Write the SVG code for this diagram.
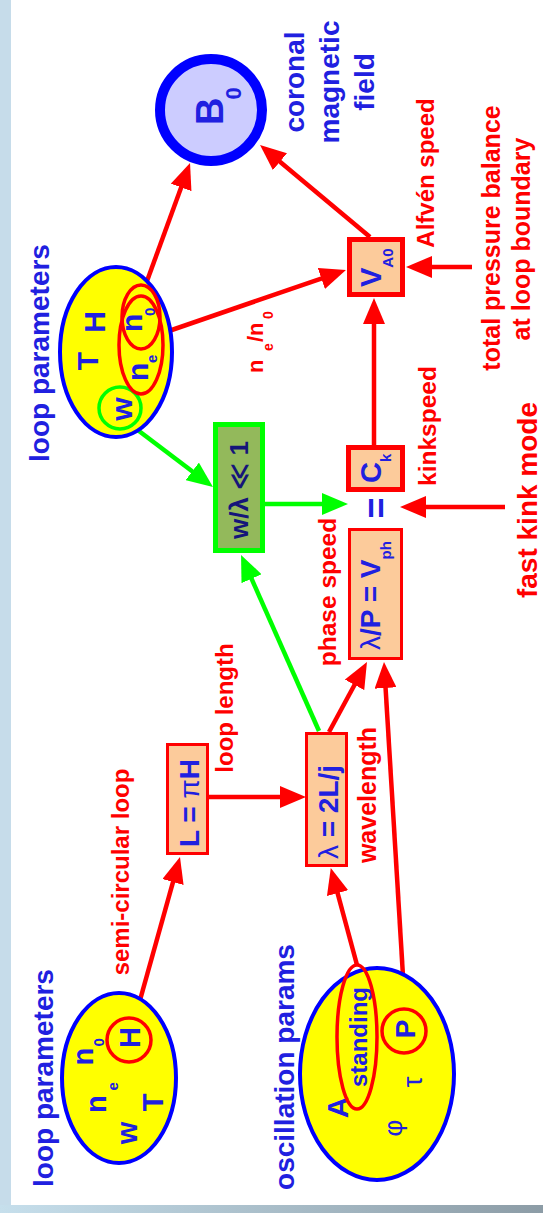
<svg xmlns="http://www.w3.org/2000/svg" width="543" height="1213" viewBox="0 0 543 1213">
<defs>
<linearGradient id="bottomGrad" x1="0" y1="0" x2="1" y2="0">
<stop offset="0" stop-color="#c6dfec"/>
<stop offset="1" stop-color="#8c9ca6"/>
</linearGradient>
<marker id="arrR" markerUnits="userSpaceOnUse" markerWidth="26" markerHeight="22" refX="16" refY="11" orient="auto"><path d="M0,0 L26,11 L0,22 z" fill="#ff0000"/></marker>
<marker id="arrG" markerUnits="userSpaceOnUse" markerWidth="26" markerHeight="22" refX="16" refY="11" orient="auto"><path d="M0,0 L26,11 L0,22 z" fill="#00ff00"/></marker>
</defs>
<style>
text{font-family:"Liberation Sans",Arial,"DejaVu Sans",sans-serif;font-weight:bold}
.b{fill:#2020e0}
.r{fill:#ff0000}
.n{font-weight:normal}
.rl{stroke:#ff0000;stroke-width:4.5;fill:none}
.gl{stroke:#00ff00;stroke-width:4.5;fill:none}
.box{fill:#fccb9b;stroke:#ff0000;stroke-width:3}
.boxT{fill:#fccb9b;stroke:#ff0000;stroke-width:5}
.yel{fill:#ffff00;stroke:#0000ff;stroke-width:4}
.ro{fill:none;stroke:#ff0000;stroke-width:3.5}
</style>
<g id="background">
<rect x="0" y="0" width="543" height="1213" fill="#ffffff"/>
<rect x="0" y="0" width="11" height="1213" fill="#c6dcea"/>
<rect x="0" y="1205" width="543" height="8" fill="url(#bottomGrad)"/>
</g>

<g id="connectors">
<line class="rl" x1="143" y1="292" x2="186.6" y2="172.4" marker-end="url(#arrR)"/>
<line class="rl" x1="163" y1="333" x2="336.5" y2="273.3" marker-end="url(#arrR)"/>
<line class="rl" x1="370" y1="237" x2="267.7" y2="151.4" marker-end="url(#arrR)"/>
<line class="rl" x1="472" y1="267" x2="416" y2="267" marker-end="url(#arrR)"/>
<line class="rl" x1="374" y1="445" x2="374" y2="308" marker-end="url(#arrR)"/>
<line class="rl" x1="505" y1="507" x2="410" y2="507" marker-end="url(#arrR)"/>
<line class="rl" x1="329" y1="732" x2="362.2" y2="670.8" marker-end="url(#arrR)"/>
<line class="rl" x1="405" y1="1009" x2="384.6" y2="672" marker-end="url(#arrR)"/>
<line class="rl" x1="209" y1="797" x2="296" y2="797" marker-end="url(#arrR)"/>
<line class="rl" x1="135" y1="1018" x2="177.3" y2="866.6" marker-end="url(#arrR)"/>
<line class="rl" x1="357" y1="965" x2="333.4" y2="877.7" marker-end="url(#arrR)"/>
<line class="gl" x1="135" y1="428" x2="205" y2="481" marker-end="url(#arrG)"/>
<line class="gl" x1="265" y1="504" x2="338" y2="504" marker-end="url(#arrG)"/>
<line class="gl" x1="319" y1="731" x2="245.1" y2="564.1" marker-end="url(#arrG)"/>
</g>

<g id="B0">
<circle cx="211" cy="110" r="51" fill="#ccccff" stroke="#0000ff" stroke-width="10"/>
<text class="b" transform="rotate(-90)" x="-125" y="223" font-size="38">B<tspan font-size="22" dx="-2" dy="18">0</tspan></text>
</g>

<g id="coronal-label">
<text class="b" transform="rotate(-90)" font-size="28" text-anchor="middle"><tspan x="-82" y="304">coronal</tspan><tspan x="-82" y="339">magnetic</tspan><tspan x="-82" y="374">field</tspan></text>
</g>

<g id="VA0">
<rect class="boxT" x="349.5" y="239.5" width="53" height="55"/>
<text class="b" transform="rotate(-90)" x="-287" y="381" font-size="29">V<tspan font-size="15" dy="12">A0</tspan></text>
</g>

<g id="labels-red">
<text class="r" transform="rotate(-90)" x="-173" y="434" font-size="24" text-anchor="middle">Alfvén speed</text>
<text class="r" transform="rotate(-90)" font-size="25" text-anchor="middle"><tspan x="-238" y="500">total pressure balance</tspan><tspan x="-239" y="530">at loop boundary</tspan></text>
<text class="r" transform="rotate(-90)" x="-426" y="436" font-size="24.5" text-anchor="middle">kinkspeed</text>
<text class="r" transform="rotate(-90)" x="-500" y="537" font-size="28" text-anchor="middle">fast kink mode</text>
<text class="r" transform="rotate(-90)" x="-592" y="336" font-size="24.5" text-anchor="middle">phase speed</text>
<text class="r" transform="rotate(-90)" x="-708" y="233" font-size="24" text-anchor="middle">loop length</text>
<text class="r" transform="rotate(-90)" x="-795" y="376" font-size="25" text-anchor="middle">wavelength</text>
<text class="r" transform="rotate(-90)" x="-872" y="129" font-size="24" text-anchor="middle">semi-circular loop</text>
<text class="r" transform="rotate(-90)" font-size="22"><tspan x="-373" y="263">n</tspan><tspan x="-351" y="273" font-size="14">e</tspan><tspan x="-342" y="263">/n</tspan><tspan x="-319" y="273" font-size="14">0</tspan></text>
</g>

<g id="loop-params-top">
<text class="b" transform="rotate(-90)" x="-353" y="49" font-size="28" text-anchor="middle">loop parameters</text>
<ellipse class="yel" cx="116" cy="352" rx="56" ry="85"/>
<text class="b" transform="rotate(-90)" font-size="30" text-anchor="middle"><tspan x="-361" y="98">T</tspan><tspan x="-322" y="105">H</tspan><tspan x="-409" y="132">w</tspan></text>
<text class="b" transform="rotate(-90)" font-size="30"><tspan x="-332" y="142">n</tspan><tspan x="-316" y="155" font-size="15">0</tspan><tspan x="-381" y="148">n</tspan><tspan x="-363" y="157" font-size="15">e</tspan></text>
<circle cx="120" cy="408" r="21" fill="none" stroke="#00ff00" stroke-width="3.5"/>
<ellipse class="ro" cx="141" cy="345" rx="22" ry="49"/>
<ellipse class="ro" cx="141" cy="317" rx="19" ry="32"/>
</g>

<g id="w-lambda">
<rect x="215.5" y="424.5" width="47" height="126" fill="#93b95b" stroke="#00ff00" stroke-width="5"/>
<text transform="rotate(-90)" x="-490" y="248" font-size="26" text-anchor="middle" fill="#15157a">w/λ ≪ 1</text>
</g>

<g id="equals">
<text class="b" transform="rotate(-90)" x="-508" y="389" font-size="36" text-anchor="middle">=</text>
</g>

<g id="Ck">
<rect class="boxT" x="348.5" y="447.5" width="54" height="42"/>
<text class="b" transform="rotate(-90)" x="-483" y="381" font-size="29">C<tspan font-size="15" dy="10">k</tspan></text>
</g>

<g id="Vph">
<rect class="box" x="349.5" y="529.5" width="52" height="129"/>
<text class="b" transform="rotate(-90)" x="-650" y="380" font-size="28"><tspan class="n">λ</tspan>/P = V<tspan font-size="15" dy="11">ph</tspan></text>
</g>

<g id="L-box">
<rect class="box" x="167.5" y="744.5" width="40" height="109"/>
<text class="b" transform="rotate(-90)" x="-803" y="199" font-size="28" text-anchor="middle">L = <tspan class="n">π</tspan>H</text>
</g>

<g id="lambda-box">
<rect class="box" x="306.5" y="733.5" width="40" height="132"/>
<text class="b" transform="rotate(-90)" x="-812" y="338" font-size="28" text-anchor="middle"><tspan class="n">λ</tspan> = 2L/j</text>
</g>

<g id="loop-params-bottom">
<text class="b" transform="rotate(-90)" x="-1078" y="53" font-size="28" text-anchor="middle">loop parameters</text>
<ellipse class="yel" cx="119" cy="1078" rx="57" ry="85"/>
<text class="b" transform="rotate(-90)" font-size="29" text-anchor="middle"><tspan x="-1133" y="137">w</tspan><tspan x="-1102.5" y="163">T</tspan><tspan x="-1037.5" y="140">H</tspan></text>
<text class="b" transform="rotate(-90)" font-size="29"><tspan x="-1065.4" y="93">n</tspan><tspan x="-1046.6" y="104" font-size="15">0</tspan><tspan x="-1113" y="106">n</tspan><tspan x="-1090.6" y="118" font-size="15">e</tspan></text>
<circle class="ro" cx="129" cy="1040" r="22"/>
</g>

<g id="oscillation-params">
<text class="b" transform="rotate(-90)" x="-1067" y="294" font-size="28" text-anchor="middle">oscillation params</text>
<ellipse class="yel" cx="377" cy="1074" rx="77" ry="106"/>
<text class="b" transform="rotate(-90)" text-anchor="middle"><tspan x="-1107.5" y="348" font-size="30">A</tspan><tspan x="-1037" y="367" font-size="24">standing</tspan><tspan x="-1029" y="415" font-size="28">P</tspan></text>
<text class="b n" transform="rotate(-90)" text-anchor="middle"><tspan x="-1082" y="422" font-size="28">τ</tspan><tspan x="-1128" y="402" font-size="26">φ</tspan></text>
<ellipse class="ro" cx="357" cy="1037" rx="20" ry="72"/>
<circle class="ro" cx="404" cy="1031" r="22"/>
</g>
</svg>
